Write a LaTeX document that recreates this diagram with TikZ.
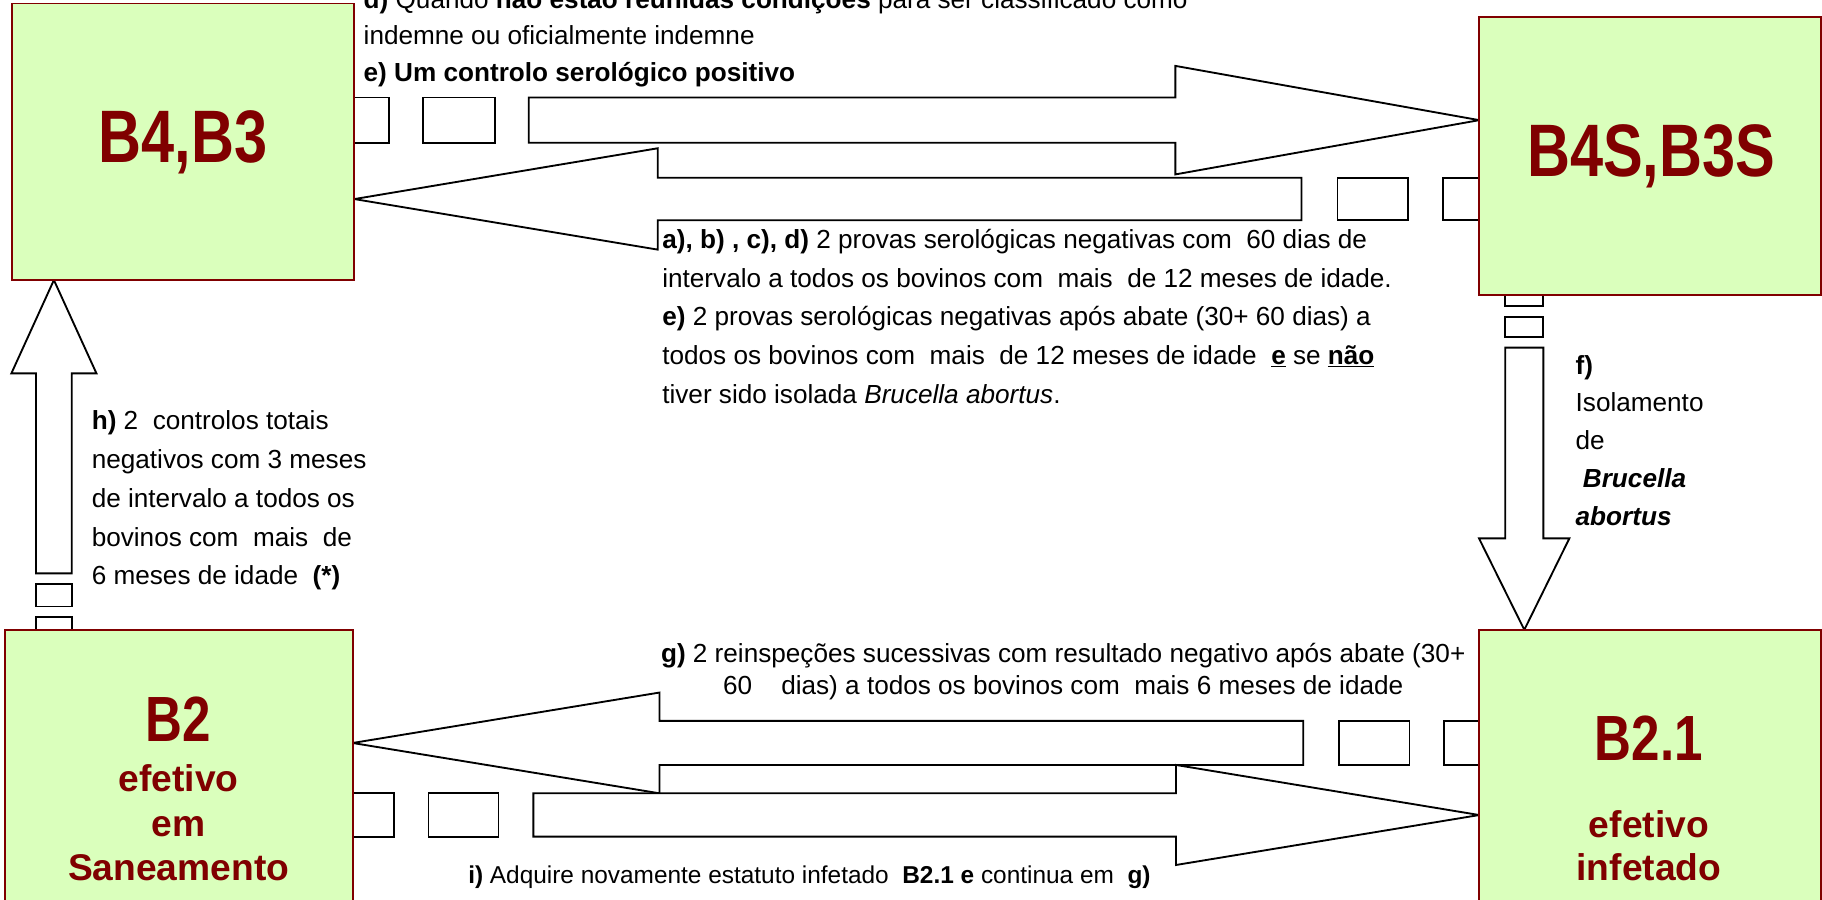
\documentclass[tikz,border=0pt]{standalone}
\usepackage{fontspec}
\setmainfont{Liberation Sans}
\newfontfamily\labelfont[FakeStretch=0.8]{Liberation Sans Bold}
\usetikzlibrary{backgrounds}
\definecolor{boxfill}{RGB}{218,255,188}
\definecolor{boxred}{RGB}{128,0,0}
\begin{document}
\begin{tikzpicture}[x=1pt,y=-1pt]
\tikzstyle{every node}+=[inner sep=0pt, outer sep=0pt]
\tikzstyle{statebox}=[rectangle, draw=boxred, fill=boxfill, line width=1.7pt]
\tikzstyle{blockarrow}=[draw=black, fill=white, line width=1.6pt]
\tikzstyle{biglabel}=[text=boxred, anchor=base, font=\labelfont\fontsize{64}{64}\selectfont]
\tikzstyle{sublabel}=[text=boxred, anchor=base, align=center, font=\bfseries\fontsize{32}{38}\selectfont]
\tikzstyle{note}=[anchor=base west, align=left, font=\fontsize{22.5}{33.3}\selectfont]
\useasboundingbox (0,0) rectangle (1568,774);
% the four states
\node[statebox, minimum width=295, minimum height=238] (b43) at (157.5,122) {};
\node[statebox, minimum width=294, minimum height=239] (b43s) at (1420,134.5) {};
\node[statebox, minimum width=299.5, minimum height=248] (b2) at (153.75,666) {};
\node[statebox, minimum width=294, minimum height=248] (b21) at (1420,666) {};
\node[biglabel] (lb43) at (157.5,140) {B4,B3};
\node[biglabel] (lb43s) at (1421,152) {B4S,B3S};
\node[biglabel, font=\labelfont\fontsize{55}{55}\selectfont] (lb2) at (153.75,637.7) {B2};
\node[sublabel, font=\bfseries\fontsize{32}{38.5}\selectfont] (sb2) at (153.75,758) {efetivo\\em\\Saneamento};
\node[biglabel, font=\labelfont\fontsize{55}{55}\selectfont] (lb21) at (1419,654.6) {B2.1};
\node[sublabel, font=\bfseries\fontsize{32}{37}\selectfont] (sb21) at (1419,757.5) {efetivo\\infetado};
% striped arrows between the states
\begin{scope}[on background layer]
\fill[white] (0,0) rectangle (1568,774);
% B4,B3 -> B4S,B3S
\draw[blockarrow] (455,83.9) -- (1011.5,83.9) -- (1011.5,56.7) -- (b43s.west |- 0,103.4) -- (1011.5,150.1) -- (1011.5,122.9) -- (455,122.9) -- cycle;
\draw[blockarrow] (300,83.9) rectangle (335,122.9);
\draw[blockarrow] (364,83.9) rectangle (426,122.9);
% B4S,B3S -> B4,B3
\draw[blockarrow] (b43.east |- 0,171.3) -- (566,127.6) -- (566,153) -- (1120,153) -- (1120,189.5) -- (566,189.5) -- (566,214.8) -- cycle;
\draw[blockarrow] (1151,153) rectangle (1212,189.5);
\draw[blockarrow] (1242,153) rectangle (1280,189.5);
% B2 -> B4,B3
\draw[blockarrow] (b43.south -| 46.4,0) -- (83,321.3) -- (61.8,321.3) -- (61.8,493.4) -- (31,493.4) -- (31,321.3) -- (9.8,321.3) -- cycle;
\draw[blockarrow] (31,502.6) rectangle (61.8,522);
\draw[blockarrow] (31,531.3) rectangle (61.8,550);
% B4S,B3S -> B2.1
\draw[blockarrow] (1295.4,299.2) -- (1328.2,299.2) -- (1328.2,463.3) -- (1350.6,463.3) -- (b21.north -| 1311.8,0) -- (1272.8,463.3) -- (1295.4,463.3) -- cycle;
\draw[blockarrow] (1295.4,272.5) rectangle (1328.2,290.3);
\draw[blockarrow] (1295.4,245) rectangle (1328.2,263);
% B2.1 -> B2
\draw[blockarrow] (b2.east |- 0,639.4) -- (567.5,596) -- (567.5,620.4) -- (1121.5,620.4) -- (1121.5,658.4) -- (567.5,658.4) -- (567.5,682.7) -- cycle;
\draw[blockarrow] (1152,620.4) rectangle (1213,658.4);
\draw[blockarrow] (1242.6,620.4) rectangle (1280,658.4);
% B2 -> B2.1
\draw[blockarrow] (459,682.7) -- (1012,682.7) -- (1012,658.3) -- (b21.west |- 0,701.4) -- (1012,744.4) -- (1012,720) -- (459,720) -- cycle;
\draw[blockarrow] (300,682.7) rectangle (339,720);
\draw[blockarrow] (368.8,682.7) rectangle (429,720);
\end{scope}
% conditions (base = last line)
\node[note, font=\fontsize{22.5}{31.6}\selectfont] (txtd) at (313,70.2) {\textbf{d)} Quando \textbf{não estão reunidas condições} para ser classificado como\\ indemne ou oficialmente indemne\\ \textbf{e) Um controlo serológico positivo}};
\node[note] (txta) at (570,346.9) {\textbf{a), b) , c), d)} 2 provas serológicas negativas com\ \ 60 dias de\\ intervalo a todos os bovinos com\ \ mais\ \ de 12 meses de idade.\\ \textbf{e)} 2 provas serológicas negativas após abate (30+ 60 dias) a\\ todos os bovinos com\ \ mais\ \ de 12 meses de idade\ \ \underline{\textbf{e}} se \underline{\textbf{não}}\\ tiver sido isolada \textit{Brucella abortus}.};
\node[note] (txth) at (79,503.2) {\textbf{h)} 2\ \ controlos totais\\ negativos com 3 meses\\ de intervalo a todos os\\ bovinos com\ \ mais\ \ de\\ 6 meses de idade\ \ \textbf{(*)}};
\node[note, font=\fontsize{22.5}{32.5}\selectfont] (txtf) at (1356,452) {\textbf{f)}\\ Isolamento\\ de\\ \ \textbf{\textit{Brucella}}\\ \textbf{\textit{abortus}}};
\node[note, anchor=base, align=center, font=\fontsize{22.5}{27.5}\selectfont] (txtg) at (915,597.8) {\textbf{g)} 2 reinspeções sucessivas com resultado negativo após abate (30+\\ 60\ \ \ \ dias) a todos os bovinos com\ \ mais 6 meses de idade};
\node[note, font=\fontsize{21}{25}\selectfont] (txti) at (403,760) {\textbf{i)} Adquire novamente estatuto infetado\ \ \textbf{B2.1 e} continua em\ \ \textbf{g)}};
\end{tikzpicture}
\end{document}
